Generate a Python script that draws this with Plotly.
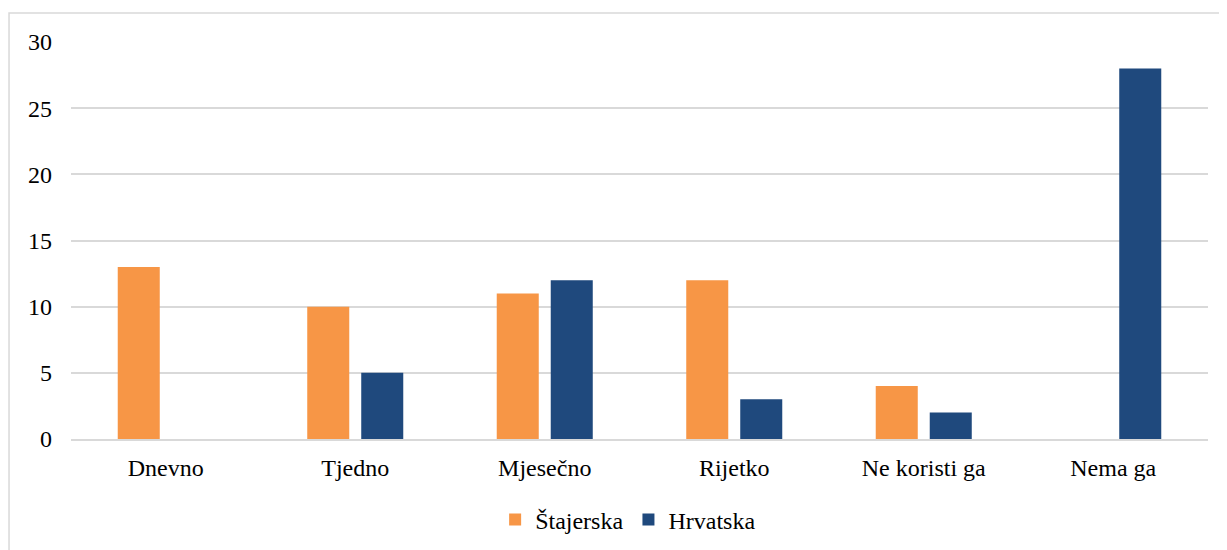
import plotly.graph_objects as go

categories = ["Dnevno", "Tjedno", "Mjesečno", "Rijetko", "Ne koristi ga", "Nema ga"]
stajerska = [13, 10, 11, 12, 4, 0]
hrvatska = [0, 5, 12, 3, 2, 28]
y_ticks = [0, 5, 10, 15, 20, 25, 30]

FONT = "Liberation Serif"

fig = go.Figure()
fig.add_trace(go.Bar(name="Štajerska", x=categories, y=stajerska, marker_color="#F79646",
                     marker_line_width=0))
fig.add_trace(go.Bar(name="Hrvatska", x=categories, y=hrvatska, marker_color="#1F497D",
                     marker_line_width=0))

fig.update_layout(
    width=1227, height=550,
    margin=dict(l=63, r=27, t=34, b=119, autoexpand=False),
    paper_bgcolor="white", plot_bgcolor="white",
    barmode="group", bargap=0.43, bargroupgap=0.222,
    font=dict(family=FONT, size=24, color="#000000"),
    showlegend=True,
    legend=dict(orientation="h", x=0.49, xanchor="center", y=-0.204, yanchor="middle",
                font=dict(family=FONT, size=24), itemwidth=30, traceorder="normal"),
    shapes=[dict(type="rect", xref="paper", yref="paper",
                 x0=-0.0545, x1=1.2, y0=-0.5, y1=1.073,
                 line=dict(color="#d9d9d9", width=1.5), fillcolor="rgba(0,0,0,0)", layer="below")],
)
fig.update_yaxes(range=[0, 30], tickvals=y_ticks, showgrid=True, gridcolor="#d9d9d9", gridwidth=1.5,
                 zeroline=False, showline=False, ticks="", ticklabelstandoff=18,
                 tickfont=dict(family=FONT, size=24))
fig.update_xaxes(showline=True, linecolor="#d9d9d9", linewidth=1.5, ticks="", ticklabelstandoff=6,
                 tickfont=dict(family=FONT, size=24))

fig.write_html("out.html")
